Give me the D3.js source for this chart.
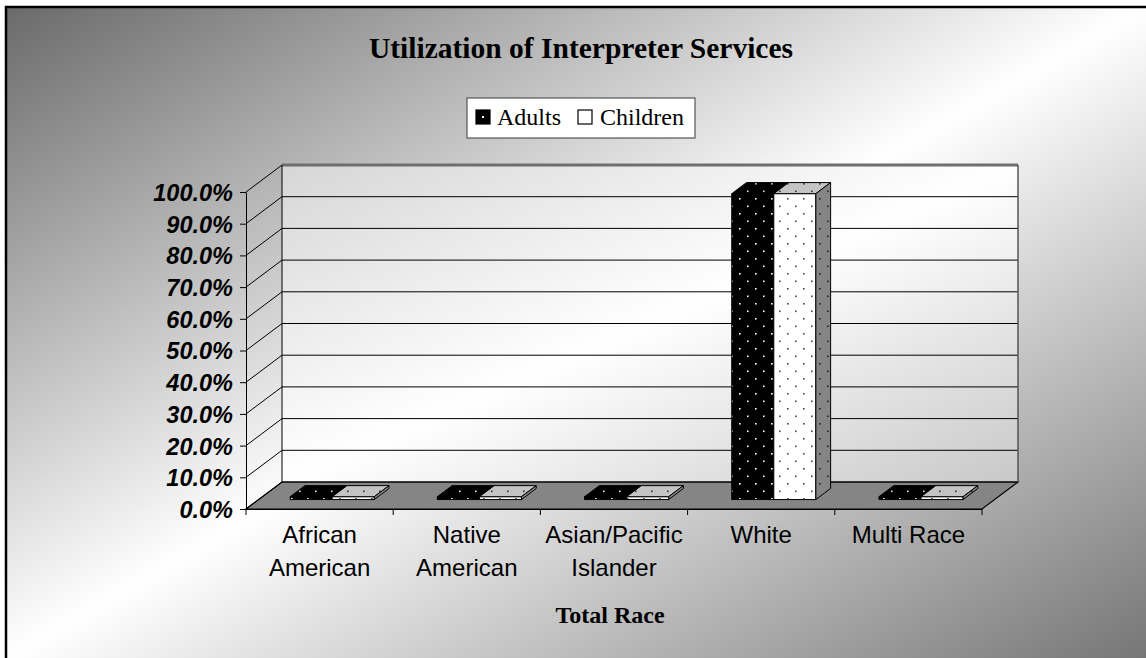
<!DOCTYPE html>
<html><head><meta charset="utf-8">
<script src="https://cdn.jsdelivr.net/npm/d3@7"></script>
<style>html,body{margin:0;padding:0;background:#fff;overflow:hidden}</style>
</head><body>
<svg id="chart" width="1146" height="658"></svg>
<script>
// ---- data ----
const categories = ["African American", "Native American", "Asian/Pacific Islander", "White", "Multi Race"];
const categoryLines = [["African", "American"], ["Native", "American"], ["Asian/Pacific", "Islander"], ["White"], ["Multi Race"]];
const series = ["Adults", "Children"];
const adultsValues = [0.009, 0.009, 0.009, 0.965, 0.009];
const childrenValues = [0.009, 0.009, 0.009, 0.965, 0.009];
const yTickValues = [0, 0.1, 0.2, 0.3, 0.4, 0.5, 0.6, 0.7, 0.8, 0.9, 1.0];
const titleText = "Utilization of Interpreter Services";
const xTitleText = "Total Race";

// ---- layout ----
const svg = d3.select("#chart");
const DX = 36, DY = 27;           // depth offset of the back wall
const D1 = 0.35, D2 = 0.76;       // bar depth (front/back fraction)
const x = d3.scaleBand().domain(categories).range([246, 982]).paddingInner(0).paddingOuter(0);
const xs = d3.scaleBand().domain(series).range([0, x.bandwidth()]).paddingInner(0).paddingOuter(0.75);
const y = d3.scaleLinear().domain([0, 1]).range([509, 192]);
const P = (xf, v, d) => [xf + d * DX, y(v) - d * DY];
const poly = pts => pts.map(p => p.join(",")).join(" ");

const defs = svg.append("defs");
const bg = defs.append("linearGradient").attr("id", "bgGrad")
  .attr("x1", 0).attr("y1", 0).attr("x2", 1).attr("y2", 1);
bg.append("stop").attr("offset", 0).attr("stop-color", "#6a6a6a");
bg.append("stop").attr("offset", 0.5).attr("stop-color", "#ffffff");
bg.append("stop").attr("offset", 1).attr("stop-color", "#767676");
const wg = defs.append("linearGradient").attr("id", "wallGrad")
  .attr("x1", 0).attr("y1", 0).attr("x2", 1).attr("y2", 1);
wg.append("stop").attr("offset", 0).attr("stop-color", "#d6d6d6");
wg.append("stop").attr("offset", 0.5).attr("stop-color", "#ffffff");
wg.append("stop").attr("offset", 1).attr("stop-color", "#c8c8c8");

function dotPattern(id, bgc, dotc) {
  const p = defs.append("pattern").attr("id", id).attr("patternUnits", "userSpaceOnUse")
    .attr("width", 16).attr("height", 15);
  p.append("rect").attr("width", 16).attr("height", 15).attr("fill", bgc);
  p.append("rect").attr("x", 3).attr("y", 3).attr("width", 1.6).attr("height", 1.6).attr("fill", dotc);
  p.append("rect").attr("x", 11).attr("y", 10.5).attr("width", 1.6).attr("height", 1.6).attr("fill", dotc);
}
dotPattern("adFront", "#000", "#fff");
dotPattern("adTop", "#000", "#ddd");
dotPattern("chFront", "#fff", "#444");
dotPattern("chTop", "#c4c4c4", "#333");
dotPattern("chSide", "#858585", "#222");

// background (chart area runs to the picture's right and bottom edges)
svg.append("rect").attr("x", 6).attr("y", 7).attr("width", 1140).attr("height", 651)
  .attr("fill", "url(#bgGrad)");
svg.append("path").attr("d", "M6,720V7H1200").attr("fill", "none")
  .attr("stroke", "#000").attr("stroke-width", 2.5);

const x0 = x.range()[0], x1 = x.range()[1];
// back wall
svg.append("polygon").attr("points", poly([P(x0, 0, 1), P(x1, 0, 1), P(x1, 1, 1), P(x0, 1, 1)]))
  .attr("fill", "url(#wallGrad)");
// floor
svg.append("polygon").attr("points", poly([P(x0, 0, 0), P(x1, 0, 0), P(x1, 0, 1), P(x0, 0, 1)]))
  .attr("fill", "#858585").attr("stroke", "#000").attr("stroke-width", 1.2);

// gridlines
const grid = svg.append("g");
yTickValues.forEach(v => {
  const top = v === 1;
  grid.append("line").attr("x1", P(x0, v, 1)[0]).attr("y1", P(x0, v, 1)[1])
    .attr("x2", P(x1, v, 1)[0]).attr("y2", P(x1, v, 1)[1])
    .attr("stroke", top ? "#6e6e6e" : "#000").attr("stroke-width", top ? 3 : 1);
  grid.append("line").attr("x1", P(x0, v, 0)[0]).attr("y1", P(x0, v, 0)[1])
    .attr("x2", P(x0, v, 1)[0]).attr("y2", P(x0, v, 1)[1])
    .attr("stroke", "#000").attr("stroke-width", 1);
});
grid.append("line").attr("x1", P(x0, 0, 1)[0]).attr("y1", P(x0, 0, 1)[1])
  .attr("x2", P(x0, 1, 1)[0]).attr("y2", P(x0, 1, 1)[1]).attr("stroke", "#000");
grid.append("line").attr("x1", P(x1, 0, 1)[0]).attr("y1", P(x1, 0, 1)[1])
  .attr("x2", P(x1, 1, 1)[0]).attr("y2", P(x1, 1, 1)[1]).attr("stroke", "#555").attr("stroke-width", 1.5);

// y axis
const yAxis = svg.append("g").attr("transform", `translate(${x0},0)`)
  .call(d3.axisLeft(y).tickValues(yTickValues).tickFormat(d3.format(".1%")).tickSize(6).tickSizeOuter(0).tickPadding(7));
yAxis.selectAll("path,line").attr("stroke", "#000");
yAxis.selectAll("text").attr("font-family", "'Liberation Sans', Arial, sans-serif")
  .attr("font-size", 23.5).attr("font-weight", "bold").attr("font-style", "italic").attr("fill", "#000")
  .attr("dy", "0.36em");

// x axis (labels) + boundary ticks
const xAxis = svg.append("g").attr("transform", `translate(0,${y(0)})`)
  .call(d3.axisBottom(x).tickSize(0).tickSizeOuter(0).tickFormat(() => ""));
xAxis.select("path").attr("stroke", "#000");
xAxis.selectAll(".tick text").each(function (d, i) {
  const t = d3.select(this).attr("y", 0).attr("dy", null)
    .attr("font-family", "'Liberation Sans', Arial, sans-serif").attr("font-size", 24).attr("fill", "#000");
  categoryLines[i].forEach((ln, k) => {
    t.append("tspan").attr("x", 0).attr("y", 34 + k * 33).text(ln);
  });
});
const bounds = categories.map(c => x(c)).concat([x1]);
xAxis.selectAll(".bnd").data(bounds).enter().append("line").attr("class", "bnd")
  .attr("x1", d => d).attr("x2", d => d).attr("y1", 0).attr("y2", 6).attr("stroke", "#000");

// bars
const bars = svg.append("g");
function drawBar(xa, xb, v, front, top, side) {
  const g = bars.append("g").attr("stroke", "#000").attr("stroke-width", 1).attr("stroke-linejoin", "round");
  g.append("polygon").attr("points", poly([P(xa, 0, D1), P(xb, 0, D1), P(xb, v, D1), P(xa, v, D1)])).attr("fill", front);
  g.append("polygon").attr("points", poly([P(xa, v, D1), P(xb, v, D1), P(xb, v, D2), P(xa, v, D2)])).attr("fill", top);
  if (side) g.append("polygon").attr("points", poly([P(xb, 0, D1), P(xb, 0, D2), P(xb, v, D2), P(xb, v, D1)])).attr("fill", side);
}
categories.forEach((c, i) => {
  const bx = x(c);
  drawBar(bx + xs("Adults"), bx + xs("Adults") + xs.bandwidth(), adultsValues[i], "url(#adFront)", "url(#adTop)", "#000");
  drawBar(bx + xs("Children"), bx + xs("Children") + xs.bandwidth(), childrenValues[i], "url(#chFront)", "url(#chTop)", "url(#chSide)");
});

// title
svg.append("text").attr("x", 581).attr("y", 58).attr("text-anchor", "middle")
  .attr("font-family", "'Liberation Serif', 'Times New Roman', serif").attr("font-weight", "bold")
  .attr("font-size", 29.5).text(titleText);

// legend
const lg = svg.append("g");
lg.append("rect").attr("x", 467).attr("y", 98).attr("width", 228).attr("height", 40)
  .attr("fill", "#fff").attr("stroke", "#555").attr("stroke-width", 1.2);
const legX = [476, 578], legT = [497, 600];
series.forEach((s, i) => {
  lg.append("rect").attr("x", legX[i]).attr("y", 110).attr("width", 14).attr("height", 14)
    .attr("fill", i === 0 ? "#000" : "#fff").attr("stroke", "#000").attr("stroke-width", 1.2);
  if (i === 0) lg.append("rect").attr("x", legX[i] + 6).attr("y", 116).attr("width", 2).attr("height", 2).attr("fill", "#fff");
  lg.append("text").attr("x", legT[i]).attr("y", 125)
    .attr("font-family", "'Liberation Serif', 'Times New Roman', serif").attr("font-size", 24).text(s);
});

// x-axis title
svg.append("text").attr("x", 610).attr("y", 623).attr("text-anchor", "middle")
  .attr("font-family", "'Liberation Serif', 'Times New Roman', serif").attr("font-weight", "bold")
  .attr("font-size", 24).text(xTitleText);
</script>
</body></html>
